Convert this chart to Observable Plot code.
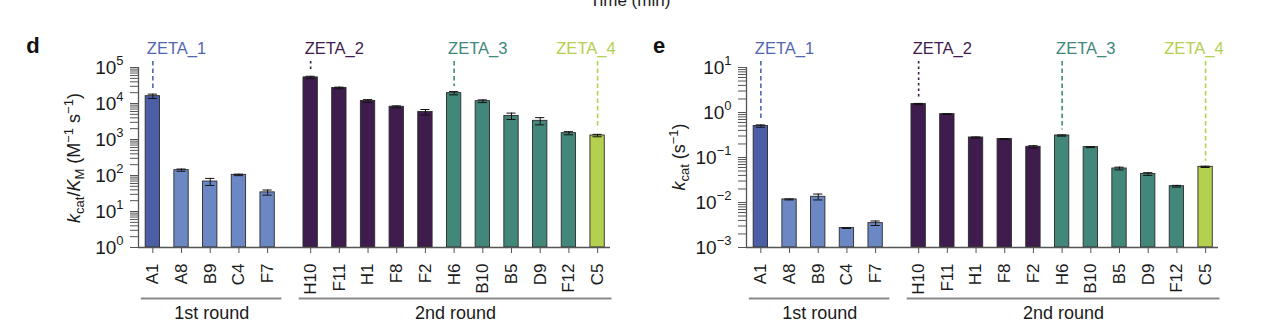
<!DOCTYPE html>
<html>
<head>
<meta charset="utf-8">
<script src="https://cdn.jsdelivr.net/npm/d3@7"></script>
<script src="https://cdn.jsdelivr.net/npm/@observablehq/plot@0.6"></script>
<style>
  html, body { margin: 0; padding: 0; background: #fff; }
  #wrap { position: relative; width: 1280px; height: 324px; overflow: hidden; font-family: "Liberation Sans", Arial, Helvetica, sans-serif; }
  #wrap svg { position: absolute; top: 0; overflow: visible; }
</style>
</head>
<body>
<div id="wrap"></div>
<script>
// ---------------- data ----------------
const variants = ["A1","A8","B9","C4","F7","H10","F11","H1","F8","F2","H6","B10","B5","D9","F12","C5"];
const rounds   = [1,1,1,1,1,2,2,2,2,2,2,2,2,2,2,2];
const groups   = ["ZETA_1","R1","R1","R1","R1","ZETA_2","ZETA_2","ZETA_2","ZETA_2","ZETA_2","ZETA_3","ZETA_3","ZETA_3","ZETA_3","ZETA_3","ZETA_4"];
const roundLabels = ["1st round","2nd round"];

// panel d: kcat/KM (M^-1 s^-1)
const kcatKm    = [1.6e4, 141, 68, 104, 34, 5.3e4, 2.7e4, 1.18e4, 8.1e3, 5.8e3, 1.94e4, 1.16e4, 4.5e3, 3.3e3, 1.5e3, 1.29e3];
const kcatKmErr = [2.2e3, 10, 15, 5, 5.5, 4e3, 1.5e3, 1e3, 5e2, 1.0e3, 2e3, 1e3, 900, 750, 150, 100];
// panel e: kcat (s^-1)
const kcat      = [0.50, 0.0117, 0.0134, 0.0027, 0.00348, 1.54, 0.92, 0.278, 0.257, 0.173, 0.308, 0.170, 0.057, 0.043, 0.023, 0.062];
const kcatErr   = [0.03, 0.0003, 0.002, 0.00005, 0.0004, 0.05, 0.02, 0.008, 0.006, 0.01, 0.01, 0.004, 0.004, 0.003, 0.001, 0.002];

const zetaNames    = ["ZETA_1","ZETA_2","ZETA_3","ZETA_4"];
const zetaVariants = ["A1","H10","H6","C5"];
const zetaColors   = ["#5166b0","#3f1c4e","#3f877a","#b3d04f"];

const groupDomain = ["ZETA_1","R1","ZETA_2","ZETA_3","ZETA_4"];
const groupColors = ["#4b5ea6","#6b88c4","#3f1c4e","#42877a","#b3d04f"];

const dExponents = [0,1,2,3,4,5];
const eExponents = [-3,-2,-1,0,1];

// ---------------- layout ----------------
const roundGap = 0.5;
const FONT = '"Liberation Sans", Arial, Helvetica, sans-serif';

function richText(svg, x, y, parts, size) {
  const t = d3.select(svg).append("text")
    .attr("transform", `translate(${x},${y}) rotate(-90)`)
    .attr("text-anchor", "middle")
    .attr("font-size", size)
    .attr("fill", "#1a1a1a")
    .attr("font-family", FONT);
  for (const p of parts) {
    const s = t.append("tspan").text(p.t);
    if (p.italic) s.attr("font-style", "italic");
    if (p.size) s.attr("font-size", p.size);
    if (p.dy) s.attr("dy", p.dy);
  }
}

function panel({vals, errs, exps, width, left, letter, titleParts, titleX, titleY}) {
  const ymin = 10 ** exps[0], ymax = 10 ** exps[exps.length - 1];
  const rows = variants.map((v, i) => ({
    variant: v, round: rounds[i], group: groups[i],
    pos: i + (rounds[i] === 2 ? roundGap : 0),
    value: vals[i], err: errs[i]
  }));
  const posLabel = new Map(rows.map(r => [r.pos, r.variant]));
  const ticks = [];
  exps.forEach((e, k) => {
    if (k < exps.length - 1) for (let m = 1; m < 10; m++) ticks.push(m * 10 ** e);
    else ticks.push(10 ** e);
  });
  const roundRows = roundLabels.map((lab, k) => {
    const rr = rows.filter(r => r.round === k + 1);
    return {label: lab, x1: rr[0].pos - 0.4, x2: rr[rr.length - 1].pos + 0.5};
  });

  const zetaMarks = [];
  zetaNames.forEach((name, k) => {
    const r = rows.find(d => d.variant === zetaVariants[k]);
    const last = k === zetaNames.length - 1;
    zetaMarks.push(
      Plot.ruleX([r], {x: "pos", y1: ymax, y2: d => d.value + d.err,
        insetTop: -6, insetBottom: 5, stroke: zetaColors[k], strokeWidth: 1.6,
        strokeDasharray: k === 1 ? "2.5,3" : "4.5,3"}),
      Plot.text([r], {x: "pos", frameAnchor: "top", text: () => name,
        fill: zetaColors[k], textAnchor: last ? "end" : "start",
        dx: last ? 18 : -6, dy: -14, lineAnchor: "bottom", fontSize: 16.5})
    );
  });

  const svg = Plot.plot({
    width, height: 324,
    marginLeft: 138, marginRight: width - 610, marginTop: 67, marginBottom: 77,
    style: {background: "none", fontFamily: FONT, color: "#1a1a1a", overflow: "visible"},
    x: {type: "linear", domain: [-0.5, 15.95]},
    y: {type: "log", domain: [ymin, ymax]},
    color: {domain: groupDomain, range: groupColors},
    marks: [
      Plot.rectY(rows, {x1: d => d.pos - 0.25, x2: d => d.pos + 0.25, y1: ymin, y2: "value",
        fill: "group", stroke: "#2b2b2b", strokeWidth: 0.9}),
      Plot.ruleX(rows, {x: "pos", y1: d => d.value - d.err, y2: d => d.value + d.err, stroke: "#111", strokeWidth: 1}),
      Plot.ruleY(rows, {y: d => d.value + d.err, x1: d => d.pos - 0.16, x2: d => d.pos + 0.16, stroke: "#111", strokeWidth: 1}),
      Plot.ruleY(rows, {y: d => d.value - d.err, x1: d => d.pos - 0.16, x2: d => d.pos + 0.16, stroke: "#111", strokeWidth: 1}),
      Plot.ruleY([ymin], {stroke: "#555", strokeWidth: 1.3}),
      Plot.ruleX([-0.5], {y1: ymin, y2: ymax, stroke: "#555", strokeWidth: 1.3}),
      Plot.axisY(ticks, {tickSize: 8, tickPadding: 7, fontSize: 19, stroke: "#555", fill: "#1a1a1a", label: null,
        tickFormat: d => {
          const l = Math.log10(d);
          return Math.abs(l - Math.round(l)) < 1e-9 ? String(Math.round(l)).replace("-", "\u2212") : "";
        }}),
      Plot.axisX(rows.map(r => r.pos), {tickSize: 6, tickPadding: 10, tickRotate: -90, fontSize: 17,
        stroke: "#555", fill: "#1a1a1a", label: null, tickFormat: p => posLabel.get(p)}),
      Plot.ruleY(roundRows, {y: ymin, x1: "x1", x2: "x2", dy: 51, stroke: "#8a8a8a", strokeWidth: 2}),
      Plot.text(roundRows, {x: d => (d.x1 + d.x2) / 2, y: ymin, text: "label", dy: 71, lineAnchor: "bottom", fontSize: 18, fill: "#1a1a1a"}),
      ...zetaMarks
    ]
  });
  svg.style.left = left + "px";

  // superscript tick labels 10^n
  d3.select(svg).selectAll('g[aria-label="y-axis tick label"] text').each(function() {
    const ex = this.textContent;
    const sel = d3.select(this);
    sel.text(null);
    if (!ex) return;
    sel.append("tspan").text("10");
    sel.append("tspan").attr("font-size", 13).attr("dy", -9).text(ex);
  });

  // panel letter
  d3.select(svg).append("text").attr("x", left ? 659 - left : 33).attr("y", 53)
    .attr("font-size", 22).attr("font-weight", "bold").attr("font-family", FONT).attr("fill", "#111").text(letter);

  richText(svg, titleX, titleY, titleParts, 18);
  return svg;
}

const wrap = document.getElementById("wrap");

const svgD = panel({
  vals: kcatKm, errs: kcatKmErr, exps: dExponents, width: 620, left: 0, letter: "d",
  titleX: 80, titleY: 158,
  titleParts: [
    {t: "k", italic: true}, {t: "cat", size: 13, dy: 4}, {t: "/", dy: -4},
    {t: "K", italic: true}, {t: "M", size: 13, dy: 4}, {t: " (M", dy: -4},
    {t: "\u22121", size: 13, dy: -7}, {t: " s", dy: 7}, {t: "\u22121", size: 13, dy: -7}, {t: ")", dy: 7}
  ]
});
wrap.appendChild(svgD);

const svgE = panel({
  vals: kcat, errs: kcatErr, exps: eExponents, width: 672, left: 608, letter: "e",
  titleX: 77, titleY: 157,
  titleParts: [
    {t: "k", italic: true}, {t: "cat", size: 13, dy: 4}, {t: " (s", dy: -4},
    {t: "\u22121", size: 13, dy: -7}, {t: ")", dy: 7}
  ]
});
// fragment of the axis title from the panel above
d3.select(svgE).append("text").attr("x", 22).attr("y", 6).attr("font-size", 17)
  .attr("font-family", FONT).attr("fill", "#1a1a1a").text("Time (min)");
wrap.appendChild(svgE);
</script>
</body>
</html>
